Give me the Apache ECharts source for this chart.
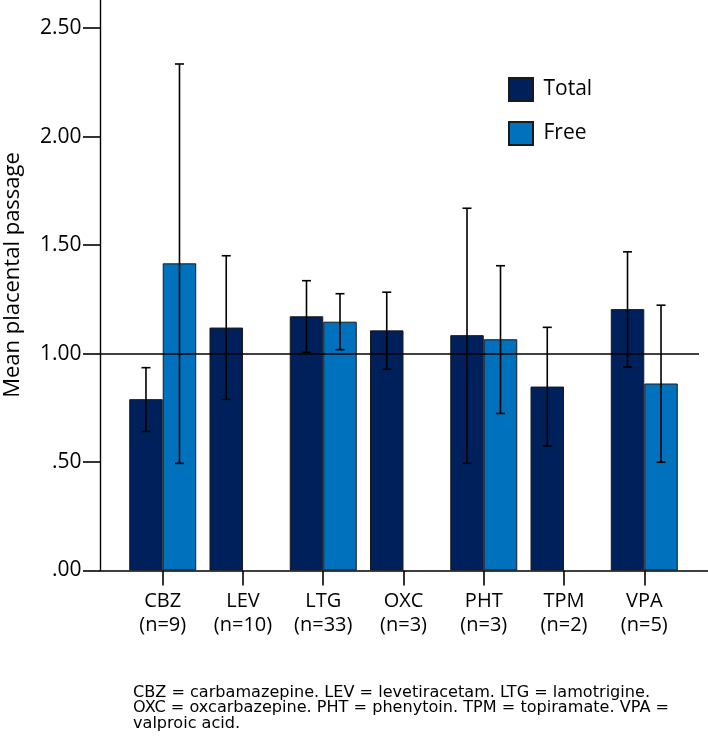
<!DOCTYPE html>
<html>
<head>
<meta charset="utf-8">
<script src="https://cdn.jsdelivr.net/npm/echarts@6/dist/echarts.min.js"></script>
<style>
  html, body { margin: 0; padding: 0; background: #fff; }
  #chart { width: 708px; height: 737px; }
</style>
</head>
<body>
<div id="chart"></div>
<script>
// ---- data ----
const categories = ['CBZ', 'LEV', 'LTG', 'OXC', 'PHT', 'TPM', 'VPA'];
const sampleSizes = [9, 10, 33, 3, 3, 2, 5];
const totalMean = [0.79, 1.12, 1.172, 1.107, 1.085, 0.848, 1.205];
const totalLow  = [0.641, 0.789, 1.006, 0.928, 0.494, 0.574, 0.938];
const totalHigh = [0.935, 1.451, 1.336, 1.283, 1.670, 1.121, 1.469];
const freeMean  = [1.416, null, 1.147, null, 1.066, null, 0.862];
const freeLow   = [0.494, null, 1.018, null, 0.724, null, 0.499];
const freeHigh  = [2.335, null, 1.276, null, 1.405, null, 1.223];
const yTicks = [0, 0.5, 1, 1.5, 2, 2.5];
const yTickLabels = ['.00', '.50', '1.00', '1.50', '2.00', '2.50'];
const referenceValue = 1.0;
const yMax = 2.63;
const footnote = [
  'CBZ = carbamazepine. LEV = levetiracetam. LTG = lamotrigine.',
  'OXC = oxcarbazepine. PHT = phenytoin. TPM = topiramate. VPA =',
  'valproic acid.'
];

// ---- styles ----
const BAR_W = 33.5;
const CAP = 4.5;
const TOTAL_COLOR = '#00205B';
const FREE_COLOR = '#0071BD';
const FONT = '"Open Sans", "Noto Sans", sans-serif';

function errData(lo, hi) {
  const out = [];
  for (let i = 0; i < lo.length; i++) {
    if (lo[i] != null && hi[i] != null) out.push([i, lo[i], hi[i]]);
  }
  return out;
}
function errRender(offset) {
  return function (params, api) {
    const i = api.value(0);
    const base = api.coord([i, 0]);
    const x = base[0] + offset;
    const yLo = api.coord([i, api.value(1)])[1];
    const yHi = api.coord([i, api.value(2)])[1];
    const st = { stroke: '#000', lineWidth: 1.6 };
    return {
      type: 'group',
      children: [
        { type: 'line', shape: { x1: x, y1: yLo, x2: x, y2: yHi }, style: st },
        { type: 'line', shape: { x1: x - CAP, y1: yHi, x2: x + CAP, y2: yHi }, style: st },
        { type: 'line', shape: { x1: x - CAP, y1: yLo, x2: x + CAP, y2: yLo }, style: st }
      ]
    };
  };
}

const chart = echarts.init(document.getElementById('chart'), null, { renderer: 'canvas' });
const option = {
  animation: false,
  backgroundColor: '#fff',
  title: {
    text: footnote.join('\n'),
    left: 133,
    top: 685,
    padding: 0,
    textStyle: {
      fontFamily: '"DejaVu Sans", sans-serif',
      fontSize: 16.1,
      fontWeight: 'normal',
      lineHeight: 15.5,
      color: '#000'
    }
  },
  legend: {
    orient: 'vertical',
    left: 508,
    top: 77,
    padding: 0,
    icon: 'rect',
    itemWidth: 24,
    itemHeight: 23,
    itemGap: 19,
    data: ['Total', 'Free'],
    formatter: function (name) { return ' ' + name; },
    textStyle: { fontFamily: FONT, fontSize: 21, color: '#000', lineHeight: 23 }
  },
  graphic: [{
    type: 'text',
    x: 13,
    y: 275,
    rotation: Math.PI / 2,
    style: {
      text: 'Mean placental passage',
      fontFamily: FONT,
      fontSize: 22,
      fill: '#000',
      align: 'center',
      verticalAlign: 'middle'
    }
  }],
  grid: [
    { left: 100, right: 0, top: 0, bottom: 166.5 },
    { left: 122.6, right: 23.6, top: 0, bottom: 166.5 },
    { left: 100, right: 9, top: 0, bottom: 166.5 }
  ],
  xAxis: [
    {
      gridIndex: 0, type: 'value', min: 0, max: 1,
      axisLine: { show: true, onZero: false, lineStyle: { color: '#000', width: 1.6 } },
      axisTick: { show: false }, axisLabel: { show: false }, splitLine: { show: false }
    },
    {
      gridIndex: 1, type: 'category', data: categories,
      axisLine: { show: false },
      axisTick: { show: true, alignWithLabel: true, length: 15, lineStyle: { color: '#000', width: 1.6 } },
      axisLabel: {
        margin: 19,
        fontFamily: FONT, fontSize: 20, color: '#000', lineHeight: 24,
        formatter: function (v, idx) { return v + '\n(n=' + sampleSizes[idx] + ')'; }
      },
      splitLine: { show: false }
    },
    { gridIndex: 2, type: 'value', min: 0, max: 1, show: false }
  ],
  yAxis: [
    {
      gridIndex: 0, type: 'value', min: 0, max: yMax,
      axisLine: { show: true, lineStyle: { color: '#000', width: 1.4 } },
      axisTick: { show: true, length: 17, customValues: yTicks, lineStyle: { color: '#000', width: 1.6 } },
      axisLabel: {
        margin: 18.5, fontFamily: FONT, fontSize: 21, color: '#000',
        customValues: yTicks,
        formatter: function (v) {
          const k = yTicks.indexOf(v);
          return k >= 0 ? yTickLabels[k] : '';
        }
      },
      splitLine: { show: false }
    },
    { gridIndex: 1, type: 'value', min: 0, max: yMax, show: false },
    { gridIndex: 2, type: 'value', min: 0, max: yMax, show: false }
  ],
  series: [
    {
      name: 'Total', type: 'bar', xAxisIndex: 1, yAxisIndex: 1,
      data: totalMean, barWidth: BAR_W, barGap: '0%', z: 2,
      itemStyle: { color: TOTAL_COLOR, borderColor: '#1a1a1a', borderWidth: 1 }
    },
    {
      name: 'Free', type: 'bar', xAxisIndex: 1, yAxisIndex: 1,
      data: freeMean, barWidth: BAR_W, barGap: '0%', z: 2,
      itemStyle: { color: FREE_COLOR, borderColor: '#1a1a1a', borderWidth: 1 }
    },
    {
      name: 'Total CI', type: 'custom', xAxisIndex: 1, yAxisIndex: 1, z: 6,
      data: errData(totalLow, totalHigh), encode: { x: 0, y: [1, 2] },
      renderItem: errRender(-BAR_W / 2)
    },
    {
      name: 'Free CI', type: 'custom', xAxisIndex: 1, yAxisIndex: 1, z: 6,
      data: errData(freeLow, freeHigh), encode: { x: 0, y: [1, 2] },
      renderItem: errRender(BAR_W / 2)
    },
    {
      name: 'Reference', type: 'line', xAxisIndex: 2, yAxisIndex: 2, z: 5,
      data: [],
      markLine: {
        silent: true, symbol: 'none', animation: false,
        label: { show: false },
        lineStyle: { color: '#000', width: 1.6, type: 'solid' },
        data: [{ yAxis: referenceValue }]
      }
    }
  ]
};
chart.setOption(option);
</script>
</body>
</html>
